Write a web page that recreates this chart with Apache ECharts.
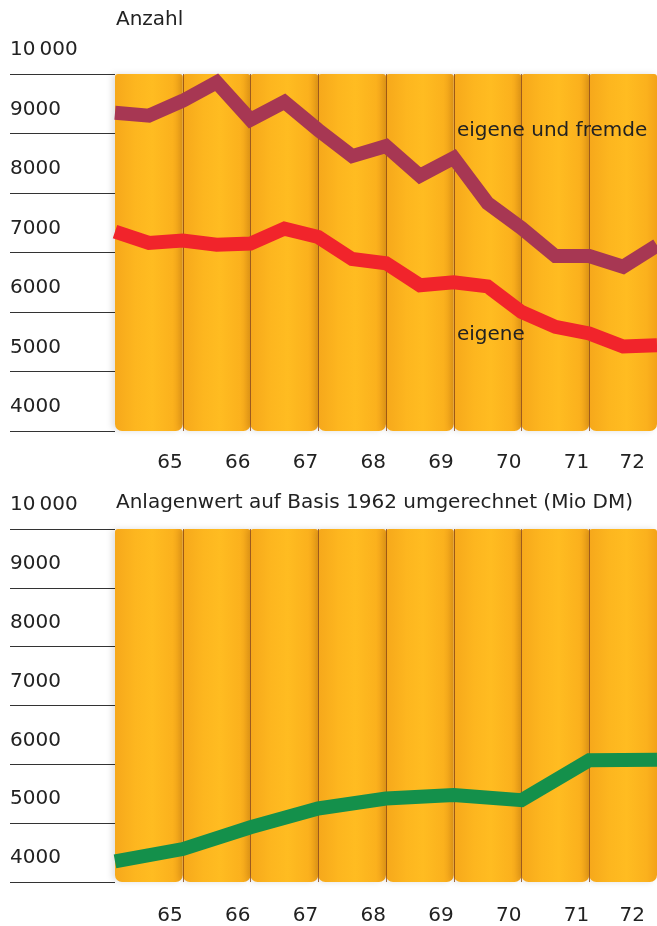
<!DOCTYPE html>
<html>
<head>
<meta charset="utf-8">
<script src="https://cdn.jsdelivr.net/npm/echarts@6/dist/echarts.min.js"></script>
<style>
html,body{margin:0;padding:0;background:#fff;}
#chart{width:657px;height:926px;}
</style>
</head>
<body>
<div id="chart"></div>
<script>
// ---- data ----
const years = ['65', '66', '67', '68', '69', '70', '71', '72'];
const yTicks = [4000, 5000, 6000, 7000, 8000, 9000, 10000];
const halfYears = [1965, 1965.5, 1966, 1966.5, 1967, 1967.5, 1968, 1968.5, 1969,
                   1969.5, 1970, 1970.5, 1971, 1971.5, 1972, 1972.5, 1973];
const eigeneUndFremde = [9350, 9300, 9550, 9860, 9230, 9530, 9060, 8620, 8790,
                         8290, 8590, 7830, 7410, 6940, 6940, 6760, 7120];
const eigene = [7350, 7160, 7200, 7130, 7150, 7400, 7260, 6890, 6820,
                6450, 6500, 6430, 6000, 5750, 5640, 5420, 5440];
const yearStarts = [1965, 1966, 1967, 1968, 1969, 1970, 1971, 1972, 1973];
const anlagenwert = [4350, 4560, 4930, 5250, 5420, 5480, 5390, 6070, 6080];

const titleTop = 'Anzahl';
const titleBottom = 'Anlagenwert auf Basis 1962 umgerechnet (Mio DM)';
const labelUpper = 'eigene und fremde';
const labelLower = 'eigene';

// ---- styling ----
const FONT = 'DejaVu Sans';
const TXT = '#222';
const yMin = yTicks[0], yMax = yTicks[yTicks.length - 1];
const colGradient = {
  type: 'linear', x: 0, y: 0, x2: 1, y2: 0,
  colorStops: [
    {offset: 0, color: '#F6A81B'},
    {offset: 0.3, color: '#FDB61F'},
    {offset: 0.55, color: '#FFBC21'},
    {offset: 0.85, color: '#FBB11D'},
    {offset: 1, color: '#F3A218'}
  ]
};

function catAxis(gi, margin) {
  return {
    gridIndex: gi, type: 'category', data: years, boundaryGap: true, z: 3,
    axisLine: {show: false}, axisTick: {show: false},
    splitLine: {show: true, interval: function (i) { return i !== 0; },
                lineStyle: {color: '#8a4512', width: 1, opacity: 0.8}},
    axisLabel: {
      interval: 0, margin: margin, fontFamily: FONT, fontSize: 20, color: TXT,
      formatter: function (v, i) { return i === years.length - 1 ? '{b|' + v + '}' : '{a|' + v + '}'; },
      rich: {
        a: {fontFamily: FONT, fontSize: 20, color: TXT, padding: [0, 0, 0, 42]},
        b: {fontFamily: FONT, fontSize: 20, color: TXT, padding: [0, 0, 0, 18]}
      }
    }
  };
}
function valXAxis(gi) {
  return {gridIndex: gi, type: 'value', min: halfYears[0], max: halfYears[halfYears.length - 1], show: false};
}
function yAx(gi) {
  return {
    gridIndex: gi, type: 'value', min: yMin, max: yMax, interval: 1000,
    axisLine: {show: false},
    axisTick: {show: true, length: 105, lineStyle: {color: '#333', width: 1}},
    splitLine: {show: false},
    axisLabel: {
      align: 'left', margin: 105, verticalAlign: 'bottom', padding: [0, 0, 14, 0],
      fontFamily: FONT, fontSize: 20, color: TXT,
      formatter: function (v) { return v === 10000 ? '10\u2009000' : String(v); }
    }
  };
}
function columns(xi, yi) {
  return {
    type: 'bar', xAxisIndex: xi, yAxisIndex: yi, silent: true, z: 1,
    barCategoryGap: '0%', barGap: '0%',
    data: years.map(function () { return yMax; }),
    itemStyle: {
      color: colGradient, borderRadius: [3, 3, 7, 7],
      shadowColor: 'rgba(0,0,0,0.12)', shadowBlur: 6, shadowOffsetX: -3
    }
  };
}
function line(xi, yi, xs, ys, color) {
  return {
    type: 'line', xAxisIndex: xi, yAxisIndex: yi, z: 5, silent: true,
    symbol: 'none', data: xs.map(function (x, i) { return [x, ys[i]]; }),
    lineStyle: {width: 14, color: color, join: 'miter', cap: 'butt'}
  };
}

const chart = echarts.init(document.getElementById('chart'), null, {renderer: 'canvas'});
chart.setOption({
  animation: false,
  backgroundColor: '#fff',
  grid: [
    {left: 115, right: -4, top: 74, height: 357},
    {left: 115, right: -4, top: 529, height: 356}
  ],
  xAxis: [catAxis(0, 22), valXAxis(0), catAxis(1, 24), valXAxis(1)],
  yAxis: [yAx(0), yAx(1)],
  series: [
    columns(0, 0),
    columns(2, 1),
    line(1, 0, halfYears, eigeneUndFremde, '#A73753'),
    line(1, 0, halfYears, eigene, '#F1242B'),
    line(3, 1, yearStarts, anlagenwert, '#14904B')
  ],
  graphic: [
    {type: 'text', x: 116, y: 20, z: 10, style: {text: titleTop, fontFamily: FONT, fontSize: 20, fill: TXT, verticalAlign: 'middle'}},
    {type: 'text', x: 116, y: 503, z: 10, style: {text: titleBottom, fontFamily: FONT, fontSize: 20, fill: TXT, verticalAlign: 'middle'}},
    {type: 'text', x: 457, y: 131, z: 10, style: {text: labelUpper, fontFamily: FONT, fontSize: 20, fill: TXT, verticalAlign: 'middle'}},
    {type: 'text', x: 457, y: 335, z: 10, style: {text: labelLower, fontFamily: FONT, fontSize: 20, fill: TXT, verticalAlign: 'middle'}}
  ]
});
</script>
</body>
</html>
